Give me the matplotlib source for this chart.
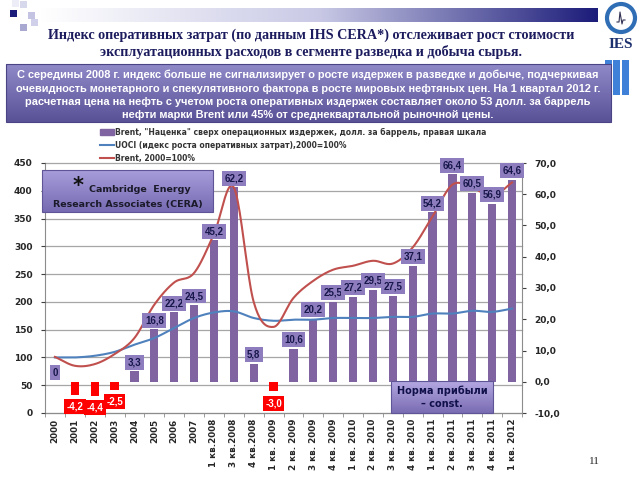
import numpy as np
import matplotlib
matplotlib.use("Agg")
import matplotlib.pyplot as plt
from matplotlib.colors import LinearSegmentedColormap
from matplotlib.patches import Rectangle, Circle
from matplotlib.lines import Line2D
from matplotlib.transforms import blended_transform_factory

plt.rcParams['font.family'] = ['DejaVu Sans']

periods = ['2000', '2001', '2002', '2003', '2004', '2005', '2006', '2007',
           '1 кв.2008', '3 кв.2008', '4 кв.2008', '1 кв. 2009', '2 кв. 2009',
           '3 кв. 2009', '4 кв. 2009', '1 кв. 2010', '2 кв. 2010', '3 кв. 2010',
           '4 кв. 2010', '1 кв. 2011', '2 кв. 2011', '3 кв. 2011', '4 кв. 2011',
           '1 кв. 2012']
# "Наценка" Brent over operating costs, $/bbl (right scale)
markup = [0, -4.2, -4.4, -2.5, 3.3, 16.8, 22.2, 24.5, 45.2, 62.2, 5.8, -3.0,
          10.6, 20.2, 25.5, 27.2, 29.5, 27.5, 37.1, 54.2, 66.4, 60.5, 56.9, 64.6]
# UOCI, 2000=100
uoci = [100, 100, 103, 110, 123, 135, 153, 171, 181, 183, 171, 166, 168, 168,
        171, 171, 171, 173, 173, 179, 179, 184, 182, 188]
# Brent, 2000=100
brent = [101, 85, 88, 106, 135, 195, 235, 252, 322, 406, 200, 155, 207, 238,
         258, 265, 274, 269, 298, 354, 411, 406, 390, 415]

left_ticks = list(range(0, 451, 50))
right_ticks = list(range(-10, 71, 10))

PURPLE = '#8064A2'
BLUE = '#4F81BD'
RED = '#C0504D'


def smooth(vals, n=20):
    # catmull-rom curve through the points, like excel's smoothed lines
    y = np.asarray(vals, float)
    p = np.concatenate([[2 * y[0] - y[1]], y, [2 * y[-1] - y[-2]]])
    t = np.linspace(0, 1, n, endpoint=False)
    xs, ys = [], []
    for i in range(len(y) - 1):
        p0, p1, p2, p3 = p[i], p[i + 1], p[i + 2], p[i + 3]
        ys.append(0.5 * (2 * p1 + (-p0 + p2) * t + (2 * p0 - 5 * p1 + 4 * p2 - p3) * t ** 2
                         + (-p0 + 3 * p1 - 3 * p2 + p3) * t ** 3))
        xs.append(i + t)
    xs.append([len(y) - 1])
    ys.append([y[-1]])
    return np.concatenate(xs), np.concatenate(ys)


def grad_box(axo, x0, y0, x1, y1, c_top, c_bot, z=1, edge=None):
    cm = LinearSegmentedColormap.from_list('g', [c_top, c_bot])
    g = np.linspace(0, 1, 64).reshape(-1, 1)
    axo.imshow(g, cmap=cm, extent=[x0, x1, y1, y0], aspect='auto', zorder=z,
               interpolation='bilinear')
    if edge:
        axo.add_patch(Rectangle((x0, y0), x1 - x0, y1 - y0, fill=False,
                                ec=edge, lw=0.8, zorder=z + 0.1))


fig = plt.figure(figsize=(6.4, 4.8), dpi=100)

# background decorations (pixel coordinates)
bg = fig.add_axes([0, 0, 1, 1])
bg.set_zorder(-5)
bg.axis('off')
cm_h = LinearSegmentedColormap.from_list('h', ['#FFFFFF', '#C9C9E6', '#1C1C7A'])
bg.imshow(np.linspace(0, 1, 256).reshape(1, -1), cmap=cm_h,
          extent=[40, 598, 22, 8], aspect='auto', interpolation='bilinear')
for (sx, sy, c) in [(10, 10, '#1C1C7A'), (20, 1, '#D8D8EC'), (28, 12, '#C4C4E2'),
                    (20, 24, '#A8A8D0'), (31, 19, '#D0D0EA'), (12, 0, '#EDEDF7')]:
    bg.add_patch(Rectangle((sx, sy), 7, 7, color=c, lw=0))
# logo
bg.add_patch(Circle((621, 18), 14, fill=False, ec='#2F6DB5', lw=3))
bg.plot([617, 619, 620, 622, 623, 625], [22, 22, 12, 24, 20, 20], color='#333355', lw=0.8)
bg.text(621, 45, 'IES', ha='center', va='center', fontsize=11, fontweight='bold',
        family='Liberation Serif', color='#1C2F6E')
for bx in [605, 613, 622]:
    bg.add_patch(Rectangle((bx, 60), 7, 35, color='#3F80D8', lw=0))
bg.set_xlim(0, 640)
bg.set_ylim(480, 0)

fig.text(311 / 640, 1 - 35 / 480,
         'Индекс оперативных затрат (по данным IHS CERA*) отслеживает рост стоимости',
         ha='center', va='center', fontsize=10.2, fontweight='bold',
         family='Liberation Serif', color='#1B1B5E')
fig.text(311 / 640, 1 - 52 / 480,
         'эксплуатационных расходов в сегменте разведка и добыча сырья.',
         ha='center', va='center', fontsize=10.2, fontweight='bold',
         family='Liberation Serif', color='#1B1B5E')

# main chart: bars on the right scale, lines on the left scale
ax = fig.add_axes([45 / 640, 1 - 413 / 480, 477 / 640, 250 / 480])
ax2 = ax.twinx()
x = np.arange(len(periods))

bar_colors = [PURPLE if v >= 0 else '#FF0000' for v in markup]
ax.bar(x, markup, width=0.42, color=bar_colors, zorder=2)
ax.set_ylim(-10, 70)
ax.set_xlim(-0.5, len(periods) - 0.5)

ax2.set_ylim(0, 450)
xs, ys = smooth(uoci)
ax2.plot(xs, ys, color=BLUE, lw=1.5, zorder=3)
xs, ys = smooth(brent)
ax2.plot(xs, ys, color=RED, lw=1.5, zorder=3)

# horizontal grid on the bar axes, at the left-scale ticks
tr = blended_transform_factory(ax.transAxes, ax2.transData)
for t in left_ticks:
    ax.plot([0, 1], [t, t], transform=tr, color='#A6A6A6', lw=0.9, zorder=1,
            clip_on=False)

# ticks
ax.yaxis.tick_right()
ax.set_yticks(right_ticks)
ax.set_yticklabels([f'{v:.1f}'.replace('.', ',') for v in right_ticks])
ax2.yaxis.tick_left()
ax2.set_yticks(left_ticks)
ax2.set_yticklabels([str(v) for v in left_ticks])
for a in (ax, ax2):
    a.tick_params(axis='y', labelsize=6.5, colors='#404040', length=3, width=0.8, pad=6)
    for lab in a.get_yticklabels():
        lab.set_fontweight('bold')
        lab.set_color('#262626')
ax.set_xticks(x)
ax.set_xticklabels(periods, rotation=90, fontsize=6.3, fontweight='bold', color='#262626')
ax.set_xticks(np.arange(-0.5, len(periods)), minor=True)
ax.tick_params(axis='x', which='major', length=0, pad=4)
ax.tick_params(axis='x', which='minor', length=3, color='#8C8C8C')

ax.spines['top'].set_visible(False)
for s in ['left', 'right', 'bottom']:
    ax.spines[s].set_color('#8C8C8C')
for s in ax2.spines.values():
    s.set_visible(False)

# data labels (drawn on the top axes)
for i, v in enumerate(markup):
    txt = '0' if v == 0 else f'{v:.1f}'.replace('.', ',')
    if v < 0:
        ax2.annotate(txt, xy=(i, v), xycoords=ax.transData, xytext=(0, -5),
                     textcoords='offset points', ha='center', va='top',
                     fontsize=7, fontweight='bold', family='Liberation Sans',
                     color='white', zorder=6,
                     bbox=dict(boxstyle='square,pad=0.25', fc='#FF0000', ec='none'))
    else:
        ax2.annotate(txt, xy=(i, v), xycoords=ax.transData, xytext=(0, 3),
                     textcoords='offset points', ha='center', va='bottom',
                     fontsize=7, fontweight='bold', family='Liberation Sans',
                     color='#17174A', zorder=6,
                     bbox=dict(boxstyle='square,pad=0.25', fc='#8E7DBE', ec='none'))

# legend
handles = [Rectangle((0, 0), 1, 1, color=PURPLE),
           Line2D([], [], color=BLUE, lw=1.5),
           Line2D([], [], color=RED, lw=1.5)]
labels = ['Brent, "Наценка" сверх операционных издержек, долл. за баррель, правая шкала',
          'UOCI (идекс роста оперативных затрат),2000=100%',
          'Brent, 2000=100%']
leg = fig.legend(handles, labels, loc='upper left', bbox_to_anchor=(96 / 640, 1 - 124 / 480),
                 frameon=False, fontsize=5.5, handlelength=1.8, handleheight=0.8,
                 handletextpad=0.2, labelspacing=0.55, borderpad=0)
for t in leg.get_texts():
    t.set_fontweight('bold')
    t.set_color('#333333')

# overlay boxes (pixel coordinates)
ov = fig.add_axes([0, 0, 1, 1])
ov.set_zorder(10)
ov.axis('off')
ov.patch.set_visible(False)

grad_box(ov, 6, 64, 611, 122, '#8F89C8', '#5A5297', edge='#4A4485')
box_lines = [
    'С середины 2008 г. индекс больше не сигнализирует о росте издержек в разведке и добыче, подчеркивая',
    'очевидность монетарного и спекулятивного фактора в росте мировых нефтяных цен. На 1 квартал 2012 г.',
    'расчетная цена на нефть с учетом роста оперативных издержек составляет около 53 долл. за баррель',
    'нефти марки Brent или 45% от среднеквартальной рыночной цены.']
for k, line in enumerate(box_lines):
    ov.text(308, 75 + k * 13.5, line, ha='center', va='center', color='white',
            fontsize=7.9, fontweight='bold', family='Liberation Sans', zorder=3)

grad_box(ov, 42, 170, 213, 212, '#A79DDA', '#766AB2', edge='#5E5596')
ov.text(78, 186, '*', ha='center', va='center', fontsize=15, fontweight='bold', color='#111111', zorder=3)
ov.text(140, 190, 'Cambridge  Energy', ha='center', va='center', fontsize=6.8,
        fontweight='bold', color='#1A1A2A', zorder=3)
ov.text(128, 204, 'Research Associates (CERA)', ha='center', va='center', fontsize=6.8,
        fontweight='bold', color='#1A1A2A', zorder=3)

grad_box(ov, 391, 381, 493, 413, '#B4A8E2', '#7A6CB2', edge='#5E5596')
ov.text(442, 391, 'Норма прибыли', ha='center', va='center', fontsize=7,
        fontweight='bold', color='#10104A', zorder=3)
ov.text(442, 404, '– const.', ha='center', va='center', fontsize=7,
        fontweight='bold', color='#10104A', zorder=3)

ov.text(594, 461, '11', ha='center', va='center', fontsize=8, family='Liberation Serif',
        color='#222222')
ov.set_xlim(0, 640)
ov.set_ylim(480, 0)

fig.savefig('out.png', dpi=100)
